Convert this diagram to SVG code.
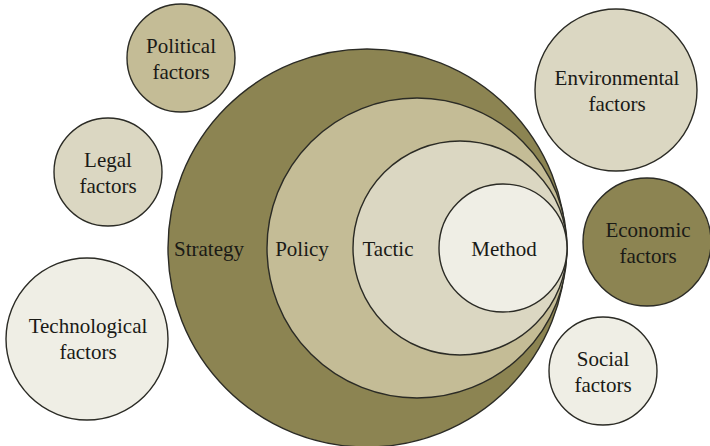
<svg xmlns="http://www.w3.org/2000/svg" width="710" height="446" viewBox="0 0 710 446">
<style>
circle{stroke:#2b2b25;stroke-width:1.4}
.d{fill:#8c8452}.m{fill:#c4bc96}.l{fill:#dbd7c2}.w{fill:#efeee5}
text{font-size:21px;fill:#1a1a16;text-anchor:middle}
</style>
<rect width="710" height="446" fill="#ffffff"/>
<g font-family="'Liberation Serif', 'Times New Roman', Tinos, 'DejaVu Serif', serif">
<g id="strategy"><circle class="d" cx="367" cy="248" r="199"/><text x="209" y="256">Strategy</text></g>
<g id="policy"><circle class="m" cx="417" cy="248" r="150"/><text x="302" y="256">Policy</text></g>
<g id="tactic"><circle class="l" cx="460" cy="248" r="107"/><text x="388" y="256">Tactic</text></g>
<g id="method"><circle class="w" cx="503" cy="248" r="64"/><text x="504" y="256">Method</text></g>
<g id="political"><circle class="m" cx="181" cy="58" r="54"/><text x="181" y="53">Political</text><text x="181" y="79">factors</text></g>
<g id="legal"><circle class="l" cx="108" cy="172" r="54"/><text x="108" y="167">Legal</text><text x="108" y="193">factors</text></g>
<g id="technological"><circle class="w" cx="87" cy="339" r="81"/><text x="88" y="333">Technological</text><text x="88" y="359">factors</text></g>
<g id="environmental"><circle class="l" cx="616" cy="90" r="81"/><text x="617" y="85">Environmental</text><text x="617" y="111">factors</text></g>
<g id="economic"><circle class="d" cx="647" cy="242" r="64"/><text x="648" y="237">Economic</text><text x="648" y="263">factors</text></g>
<g id="social"><circle class="w" cx="603" cy="371" r="54"/><text x="603" y="366">Social</text><text x="603" y="392">factors</text></g>
</g>
<g id="connectors"></g>
</svg>
